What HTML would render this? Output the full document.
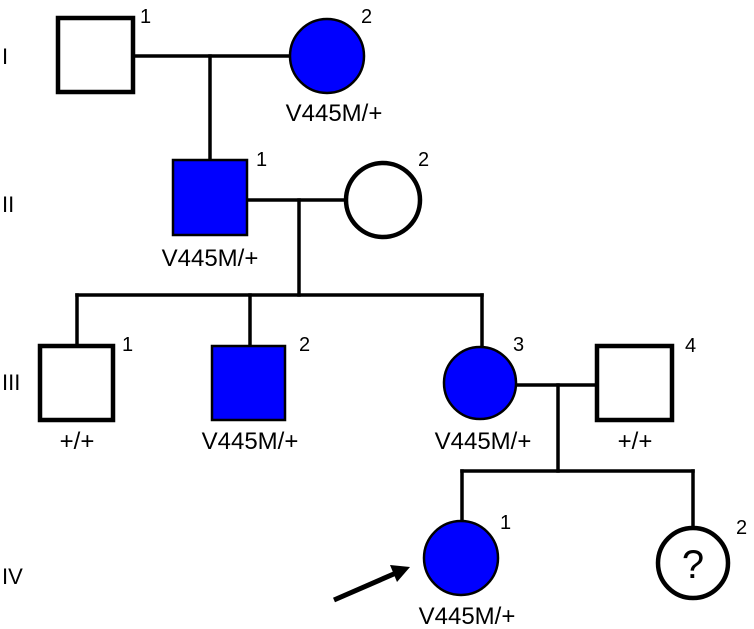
<!DOCTYPE html>
<html><head><meta charset="utf-8"><style>
html,body{margin:0;padding:0;background:#fff;}
svg{display:block;}
text{font-family:"Liberation Sans",Arial,sans-serif;fill:#000;}
</style></head><body>
<svg width="754" height="629" viewBox="0 0 754 629" xmlns="http://www.w3.org/2000/svg">
<g stroke="#000" stroke-width="3.5" fill="none" stroke-linecap="square">
<line x1="133" y1="56" x2="290" y2="56"/>
<line x1="210" y1="56" x2="210" y2="160"/>
<line x1="247" y1="200" x2="346" y2="200"/>
<line x1="299" y1="200" x2="299" y2="295"/>
<line x1="77" y1="295" x2="482" y2="295"/>
<line x1="77" y1="295" x2="77" y2="346"/>
<line x1="250" y1="295" x2="250" y2="346"/>
<line x1="482" y1="295" x2="482" y2="347"/>
<line x1="516" y1="385" x2="597" y2="385"/>
<line x1="558" y1="385" x2="558" y2="471"/>
<line x1="462" y1="471" x2="693" y2="471"/>
<line x1="462" y1="471" x2="462" y2="521"/>
<line x1="693" y1="471" x2="693" y2="528"/>
</g>
<g stroke="#000" stroke-width="4.5">
<rect x="58" y="18" width="75" height="74" fill="#fff"/>
<circle cx="327" cy="56" r="37" fill="#0000ff" stroke-width="2.5"/>
<rect x="173" y="160" width="74" height="75" fill="#0000ff" stroke-width="2.5"/>
<circle cx="383" cy="200" r="37" fill="#fff"/>
<rect x="40" y="346" width="73" height="74" fill="#fff"/>
<rect x="212" y="346" width="73" height="74" fill="#0000ff" stroke-width="2.5"/>
<circle cx="480" cy="383" r="36" fill="#0000ff" stroke-width="2.5"/>
<rect x="597" y="346" width="75" height="74" fill="#fff"/>
<circle cx="461" cy="558" r="37" fill="#0000ff" stroke-width="2.5"/>
<circle cx="693" cy="563" r="35" fill="#fff"/>
</g>
<line x1="334" y1="600" x2="396" y2="573" stroke="#000" stroke-width="5"/>
<polygon points="410,567 390,565 397,582" fill="#000"/>
<g font-size="22">
<text x="2" y="64">I</text>
<text x="2" y="212">II</text>
<text x="2" y="390">III</text>
<text x="2" y="584">IV</text>
</g>
<g font-size="20">
<text x="140" y="23">1</text>
<text x="361" y="23">2</text>
<text x="256" y="166">1</text>
<text x="418" y="166">2</text>
<text x="122" y="351">1</text>
<text x="299" y="351">2</text>
<text x="513" y="351">3</text>
<text x="685" y="352">4</text>
<text x="500" y="529">1</text>
<text x="736" y="534">2</text>
</g>
<g font-size="24" text-anchor="middle">
<text x="334" y="121">V445M/+</text>
<text x="210" y="266">V445M/+</text>
<text x="77" y="449">+/+</text>
<text x="250" y="449">V445M/+</text>
<text x="483" y="449">V445M/+</text>
<text x="635" y="449">+/+</text>
<text x="467" y="624">V445M/+</text>
<text x="693" y="578" font-size="40">?</text>
</g>
</svg>
</body></html>
